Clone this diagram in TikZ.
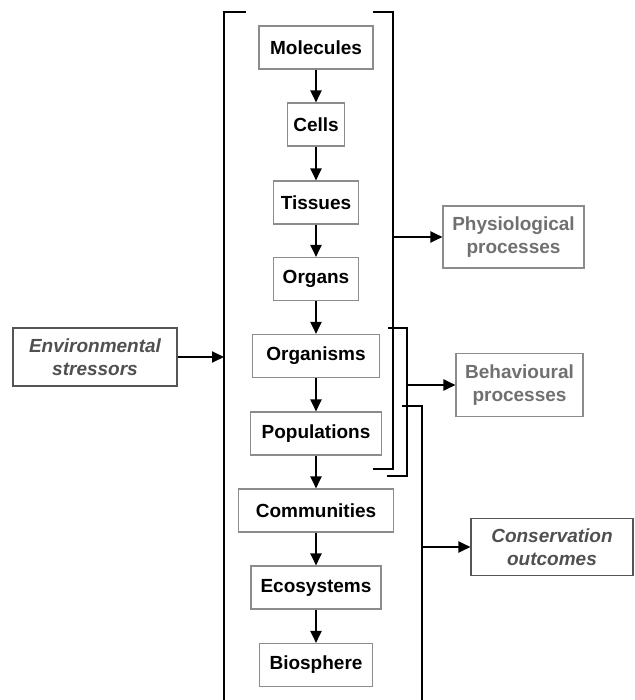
\documentclass[tikz,border=0pt]{standalone}
\usepackage{fontspec}
\setmainfont{Liberation Sans}
\usetikzlibrary{arrows.meta}
\definecolor{boxgray}{HTML}{8C8C8C}
\definecolor{softtext}{HTML}{707070}
\definecolor{darktext}{HTML}{505050}
\definecolor{darkline}{HTML}{555555}
\tikzset{
  level/.style={draw=boxgray,line width=1.1pt,minimum height=43pt,inner sep=0pt,
    font=\bfseries\fontsize{19}{23}\selectfont},
  process/.style={draw=boxgray,line width=1.1pt,inner sep=0pt,align=center,text=softtext,
    font=\bfseries\fontsize{19}{23}\selectfont},
  external/.style={draw=darkline,line width=1.1pt,inner sep=0pt,align=center,text=darktext,
    font=\bfseries\itshape\fontsize{19}{23}\selectfont},
  link/.style={line width=2pt,-{Triangle[length=12pt,width=11pt]}},
  bracket/.style={line width=2pt}
}
\begin{document}
\begin{tikzpicture}[x=1pt,y=-1pt]
\useasboundingbox (0,0) rectangle (634,700);
\node[level,minimum width=114pt] (mol) at (316,47.5) {Molecules};
\node[level,minimum width=57pt] (cel) at (316,124.5) {Cells};
\node[level,minimum width=85pt] (tis) at (316,202.5) {Tissues};
\node[level,minimum width=85pt] (org) at (316,279) {Organs};
\node[level,minimum width=127pt] (ism) at (316,356) {Organisms};
\node[level,minimum width=131pt] (pop) at (316,433.5) {Populations};
\node[level,minimum width=155pt] (com) at (316,510.5) {Communities};
\node[level,minimum width=130pt] (eco) at (316,587.5) {Ecosystems};
\node[level,minimum width=113pt] (bio) at (316,665) {Biosphere};
\draw[link](mol)--(cel);
\draw[link](cel)--(tis);
\draw[link](tis)--(org);
\draw[link](org)--(ism);
\draw[link](ism)--(pop);
\draw[link](pop)--(com);
\draw[link](com)--(eco);
\draw[link](eco)--(bio);
\node[external,minimum width=164pt,minimum height=58pt] (env) at (95,357) {Environmental\\stressors};
\node[process,minimum width=141pt,minimum height=62pt] (phy) at (513.5,237) {Physiological\\processes};
\node[process,minimum width=127pt,minimum height=63pt] (beh) at (519.5,385) {Behavioural\\processes};
\node[external,minimum width=162pt,minimum height=57pt] (con) at (552,547) {Conservation\\outcomes};
% brackets
\coordinate (lb) at (224,357);
\coordinate (b1) at (393,237);
\coordinate (b2) at (407,385);
\coordinate (b3) at (422,547);
\draw[bracket](246,12)--(224,12)--(224,700.6)--(246,700.6);
\draw[bracket](373,12)--(393,12)--(393,469)--(373,469);
\draw[bracket](388,328)--(407,328)--(407,476)--(387,476);
\draw[bracket](402,406)--(422,406)--(422,700.6)--(402,700.6);
\draw[link](env)--(lb);
\draw[link](b1)--(phy);
\draw[link](b2)--(beh);
\draw[link](b3)--(con);
\end{tikzpicture}
\end{document}
